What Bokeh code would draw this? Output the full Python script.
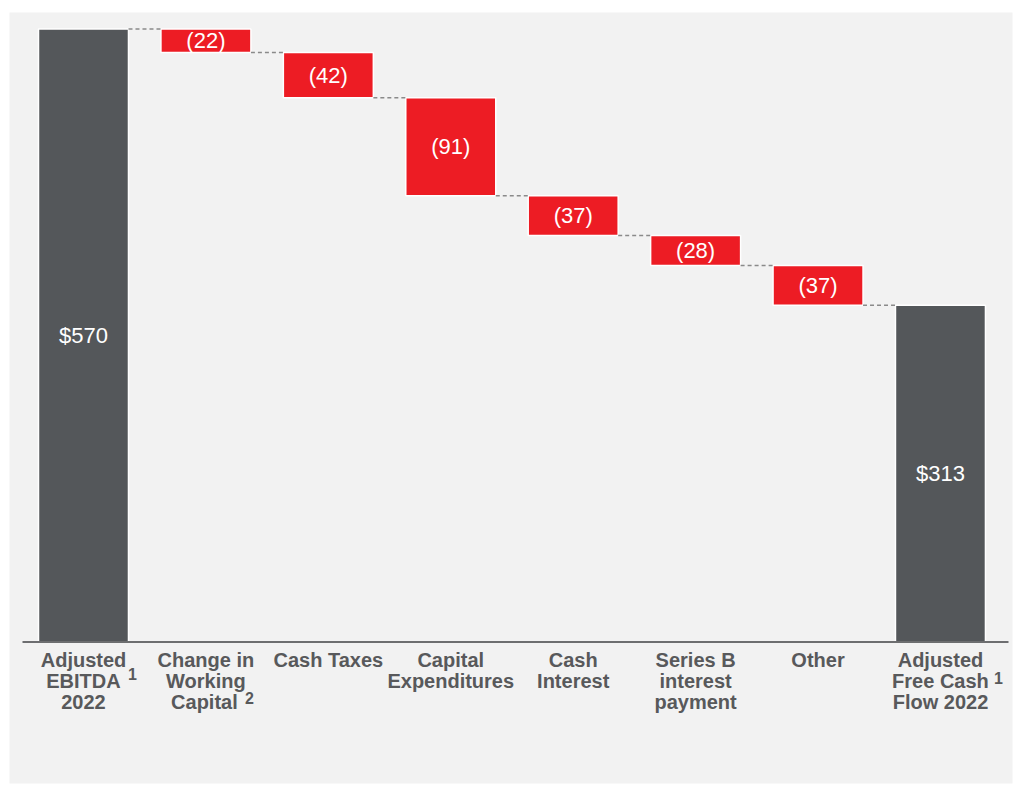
from bokeh.plotting import figure
from bokeh.models import Range1d, ColumnDataSource
from bokeh.core.properties import value
from bokeh.embed import file_html
from bokeh.resources import INLINE

# ---- data ----
categories = [
    ["Adjusted", "EBITDA", "2022"],
    ["Change in", "Working", "Capital"],
    ["Cash Taxes"],
    ["Capital", "Expenditures"],
    ["Cash", "Interest"],
    ["Series B", "interest", "payment"],
    ["Other"],
    ["Adjusted", "Free Cash", "Flow 2022"],
]
values = [570, -22, -42, -91, -37, -28, -37, 313]
kinds = ["total", "delta", "delta", "delta", "delta", "delta", "delta", "total"]
value_labels = ["$570", "(22)", "(42)", "(91)", "(37)", "(28)", "(37)", "$313"]
# superscript footnotes: (category index, line index, mark)
footnotes = [(0, 1, "1"), (1, 2, "2"), (7, 1, "1")]

# ---- style ----
GRAY = "#54575a"
RED = "#ed1c24"
TXT = "#58595b"
BG = "#f2f2f2"
FONT = value("Liberation Sans")

W, H = 1014, 785
ML, MR, MT, MB = 9, 2, 12, 2
frame_w = W - ML - MR
frame_h = H - MT - MB

x0, x1 = -0.6044, 7.5884
y0, y1 = -131.6, 585.3
ppx = frame_w / (x1 - x0)   # pixels per x unit
ppy = frame_h / (y1 - y0)   # pixels per y unit

# waterfall geometry
bottoms, tops, colors = [], [], []
running = 0
for v, k in zip(values, kinds):
    if k == "total":
        bottoms.append(0)
        tops.append(v)
        running = v
        colors.append(GRAY)
    else:
        new = running + v
        bottoms.append(new)
        tops.append(running)
        running = new
        colors.append(RED)

xs = list(range(len(values)))
bar_w = 0.735

p = figure(width=W, height=H, output_backend="svg", toolbar_location=None,
           x_range=Range1d(x0, x1), y_range=Range1d(y0, y1),
           x_axis_location=None, y_axis_location=None,
           min_border_left=ML, min_border_right=MR,
           min_border_top=MT, min_border_bottom=MB)
p.background_fill_color = BG
p.border_fill_color = "white"
p.outline_line_color = None
p.grid.visible = False

src = ColumnDataSource(dict(x=xs, bottom=bottoms, top=tops, color=colors,
                            label=value_labels,
                            mid=[(b + t) / 2 for b, t in zip(bottoms, tops)]))
p.vbar(x="x", width=bar_w, bottom="bottom", top="top", fill_color="color",
       line_color="white", line_width=1.5, source=src)

# connectors
cx0, cx1, cy = [], [], []
for i in range(len(values) - 1):
    level = bottoms[i] if kinds[i] == "delta" else tops[i]
    cx0.append(xs[i] + bar_w / 2)
    cx1.append(xs[i + 1] - bar_w / 2)
    cy.append(level)
p.segment(x0=cx0, y0=cy, x1=cx1, y1=cy, line_color="#8a8a8a",
          line_width=1.5, line_dash="4 3")

# value labels
p.text(x="x", y="mid", text="label", source=src, text_color="white",
       text_font=FONT, text_font_size="22px", text_align="center",
       text_baseline="middle")

# baseline axis line
p.segment(x0=[(22 - ML) / ppx + x0], y0=[0], x1=[(1008 - ML) / ppx + x0], y1=[0],
          line_color="#6d6e70", line_width=2)

# category labels
first_off = 18.5  # px below baseline of first line center
line_gap = 21
lx, ly, lt = [], [], []
x_adj = {(1, 2): -1.5}
for i, lines in enumerate(categories):
    for j, t in enumerate(lines):
        lx.append(xs[i] + x_adj.get((i, j), 0) / ppx)
        ly.append(-(first_off + j * line_gap) / ppy)
        lt.append(t)
p.text(x=lx, y=ly, text=lt, text_color=TXT, text_font=FONT,
       text_font_size="20px", text_font_style="bold", text_align="center",
       text_baseline="middle")

# footnote marks
fpos = {(0, 1): (49, 7), (1, 2): (43.5, 4), (7, 1): (58, 3.5)}
fx, fy, ft = [], [], []
for i, j, m in footnotes:
    dx, up = fpos[(i, j)]
    fx.append(xs[i] + dx / ppx)
    fy.append(-(first_off + j * line_gap - up) / ppy)
    ft.append(m)
p.text(x=fx, y=fy, text=ft, text_color=TXT, text_font=FONT,
       text_font_size="16px", text_font_style="bold", text_align="center",
       text_baseline="middle")

open("out.html", "w").write(file_html(p, INLINE))
